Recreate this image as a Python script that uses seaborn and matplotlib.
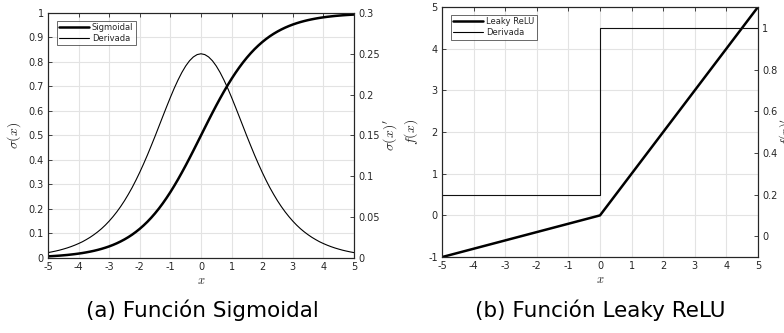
import matplotlib
matplotlib.use("Agg")
import matplotlib.pyplot as plt
import seaborn as sns
import pandas as pd
from matplotlib.lines import Line2D

# ---- data ----
x_sig = [-5.0, -4.875, -4.75, -4.625, -4.5, -4.375, -4.25, -4.125, -4.0, -3.875, -3.75, -3.625,
         -3.5, -3.375, -3.25, -3.125, -3.0, -2.875, -2.75, -2.625, -2.5, -2.375, -2.25, -2.125,
         -2.0, -1.875, -1.75, -1.625, -1.5, -1.375, -1.25, -1.125, -1.0, -0.875, -0.75, -0.625,
         -0.5, -0.375, -0.25, -0.125, 0.0, 0.125, 0.25, 0.375, 0.5, 0.625, 0.75, 0.875, 1.0,
         1.125, 1.25, 1.375, 1.5, 1.625, 1.75, 1.875, 2.0, 2.125, 2.25, 2.375, 2.5, 2.625, 2.75,
         2.875, 3.0, 3.125, 3.25, 3.375, 3.5, 3.625, 3.75, 3.875, 4.0, 4.125, 4.25, 4.375, 4.5,
         4.625, 4.75, 4.875, 5.0]
sigmoid = [0.0067, 0.0076, 0.0086, 0.0097, 0.0110, 0.0124, 0.0141, 0.0159, 0.0180, 0.0203,
           0.0230, 0.0260, 0.0293, 0.0331, 0.0373, 0.0421, 0.0474, 0.0534, 0.0601, 0.0676,
           0.0759, 0.0851, 0.0953, 0.1067, 0.1192, 0.1330, 0.1480, 0.1645, 0.1824, 0.2018,
           0.2227, 0.2451, 0.2689, 0.2942, 0.3208, 0.3487, 0.3775, 0.4073, 0.4378, 0.4688,
           0.5000,
           0.5312, 0.5622, 0.5927, 0.6225, 0.6513, 0.6792, 0.7058, 0.7311, 0.7549, 0.7773,
           0.7982, 0.8176, 0.8355, 0.8520, 0.8670, 0.8808, 0.8933, 0.9047, 0.9149, 0.9241,
           0.9324, 0.9399, 0.9466, 0.9526, 0.9579, 0.9627, 0.9669, 0.9707, 0.9740, 0.9770,
           0.9797, 0.9820, 0.9841, 0.9859, 0.9876, 0.9890, 0.9903, 0.9914, 0.9924, 0.9933]
sigmoid_deriv = [0.0066, 0.0075, 0.0085, 0.0096, 0.0109, 0.0123, 0.0139, 0.0157, 0.0177, 0.0199,
                 0.0225, 0.0253, 0.0285, 0.0320, 0.0359, 0.0403, 0.0452, 0.0506, 0.0565, 0.0630,
                 0.0701, 0.0779, 0.0862, 0.0953, 0.1050, 0.1153, 0.1261, 0.1375, 0.1491, 0.1611,
                 0.1731, 0.1850, 0.1966, 0.2077, 0.2179, 0.2271, 0.2350, 0.2414, 0.2461, 0.2490,
                 0.2500,
                 0.2490, 0.2461, 0.2414, 0.2350, 0.2271, 0.2179, 0.2077, 0.1966, 0.1850, 0.1731,
                 0.1611, 0.1491, 0.1375, 0.1261, 0.1153, 0.1050, 0.0953, 0.0862, 0.0779, 0.0701,
                 0.0630, 0.0565, 0.0506, 0.0452, 0.0403, 0.0359, 0.0320, 0.0285, 0.0253, 0.0225,
                 0.0199, 0.0177, 0.0157, 0.0139, 0.0123, 0.0109, 0.0096, 0.0085, 0.0075, 0.0066]

x_relu = [-5.0, 0.0, 5.0]
leaky_relu = [-1.0, 0.0, 5.0]
x_relu_d = [-5.0, 0.0, 0.0, 5.0]
leaky_relu_deriv = [0.2, 0.2, 1.0, 1.0]

xticks = [-5, -4, -3, -2, -1, 0, 1, 2, 3, 4, 5]
sig_left_ticks = [0, 0.1, 0.2, 0.3, 0.4, 0.5, 0.6, 0.7, 0.8, 0.9, 1]
sig_left_labels = ["0", "0.1", "0.2", "0.3", "0.4", "0.5", "0.6", "0.7", "0.8", "0.9", "1"]
sig_right_ticks = [0, 0.05, 0.1, 0.15, 0.2, 0.25, 0.3]
sig_right_labels = ["0", "0.05", "0.1", "0.15", "0.2", "0.25", "0.3"]
relu_left_ticks = [-1, 0, 1, 2, 3, 4, 5]
relu_right_ticks = [0, 0.2, 0.4, 0.6, 0.8, 1]
relu_right_labels = ["0", "0.2", "0.4", "0.6", "0.8", "1"]

captions = ["(a) Función Sigmoidal", "(b) Función Leaky ReLU"]

# ---- style ----
sns.set_style("white")
plt.rcParams["font.family"] = ["DejaVu Sans"]
plt.rcParams["mathtext.fontset"] = "cm"

fig = plt.figure(figsize=(7.84, 3.33), dpi=100)
ax1 = fig.add_axes([0.0612, 0.2252, 0.3903, 0.736])
ax3 = fig.add_axes([0.5638, 0.228, 0.403, 0.751])

def style(ax, xt, yt):
    ax.set_xticks(xt)
    ax.set_yticks(yt)
    ax.grid(True, color="#e3e3e3", linewidth=0.8)
    ax.set_axisbelow(True)
    ax.tick_params(direction="in", length=3, width=0.6, labelsize=7, colors="#262626",
                   top=True, right=False, pad=3)
    for s in ax.spines.values():
        s.set_color("#262626")
        s.set_linewidth(0.8)
    ax.set_xticklabels([str(v) for v in xt])

def style_twin(ax, yt):
    ax.set_yticks(yt)
    ax.tick_params(direction="in", length=3, width=0.6, labelsize=7, colors="#262626", pad=3)
    for s in ax.spines.values():
        s.set_color("#262626")
        s.set_linewidth(0.8)
    ax.grid(False)

legend_kw = dict(loc="upper left", fontsize=6, frameon=True, fancybox=False,
                 edgecolor="#262626", handlelength=3.6, handletextpad=0.3, borderpad=0.3,
                 labelspacing=0.2, bbox_to_anchor=(0.015, 0.985))

# ---- panel a ----
df_sig = pd.DataFrame({"x": x_sig, "s": sigmoid, "d": sigmoid_deriv})
sns.lineplot(data=df_sig, x="x", y="s", ax=ax1, color="black", linewidth=1.8)
ax1.set_xlim(-5, 5)
ax1.set_ylim(0, 1)
style(ax1, xticks, sig_left_ticks)
ax1.set_yticklabels(sig_left_labels)
ax2 = ax1.twinx()
sns.lineplot(data=df_sig, x="x", y="d", ax=ax2, color="black", linewidth=0.8)
ax2.set_ylim(0, 0.3)
style_twin(ax2, sig_right_ticks)
ax2.set_yticklabels(sig_right_labels)
ax1.set_xlabel(r"$x$", fontsize=9, labelpad=1)
ax1.set_ylabel(r"$\sigma(x)$", fontsize=10, labelpad=4)
ax2.set_ylabel(r"$\sigma(x)'$", fontsize=10, labelpad=1)
handles = [Line2D([], [], color="black", linewidth=1.8), Line2D([], [], color="black", linewidth=0.8)]
leg = ax2.legend(handles, ["Sigmoidal", "Derivada"], **legend_kw)
leg.get_frame().set_linewidth(0.6)

# ---- panel b ----
df_relu = pd.DataFrame({"x": x_relu, "f": leaky_relu})
df_relu_d = pd.DataFrame({"x": x_relu_d, "d": leaky_relu_deriv})
sns.lineplot(data=df_relu, x="x", y="f", ax=ax3, color="black", linewidth=1.8)
ax3.set_xlim(-5, 5)
ax3.set_ylim(-1, 5)
style(ax3, xticks, relu_left_ticks)
ax3.set_yticklabels([str(v) for v in relu_left_ticks])
ax4 = ax3.twinx()
sns.lineplot(data=df_relu_d, x="x", y="d", ax=ax4, color="#111111", linewidth=0.8,
             sort=False, estimator=None)
ax4.set_ylim(-0.1, 1.1)
style_twin(ax4, relu_right_ticks)
ax4.set_yticklabels(relu_right_labels)
ax3.set_xlabel(r"$x$", fontsize=9, labelpad=1)
ax3.set_ylabel(r"$f(x)$", fontsize=10, labelpad=6)
ax4.set_ylabel(r"$f(x)'$", fontsize=9, labelpad=0)
leg2 = ax4.legend(handles, ["Leaky ReLU", "Derivada"], **legend_kw)
leg2.get_frame().set_linewidth(0.6)

# ---- captions ----
fig.text(202 / 784, 1 - 310 / 333, captions[0], ha="center", va="center", fontsize=15.5,
         color="black")
fig.text(600 / 784, 1 - 310 / 333, captions[1], ha="center", va="center", fontsize=15.5,
         color="black")

fig.savefig("out.png", dpi=100)
